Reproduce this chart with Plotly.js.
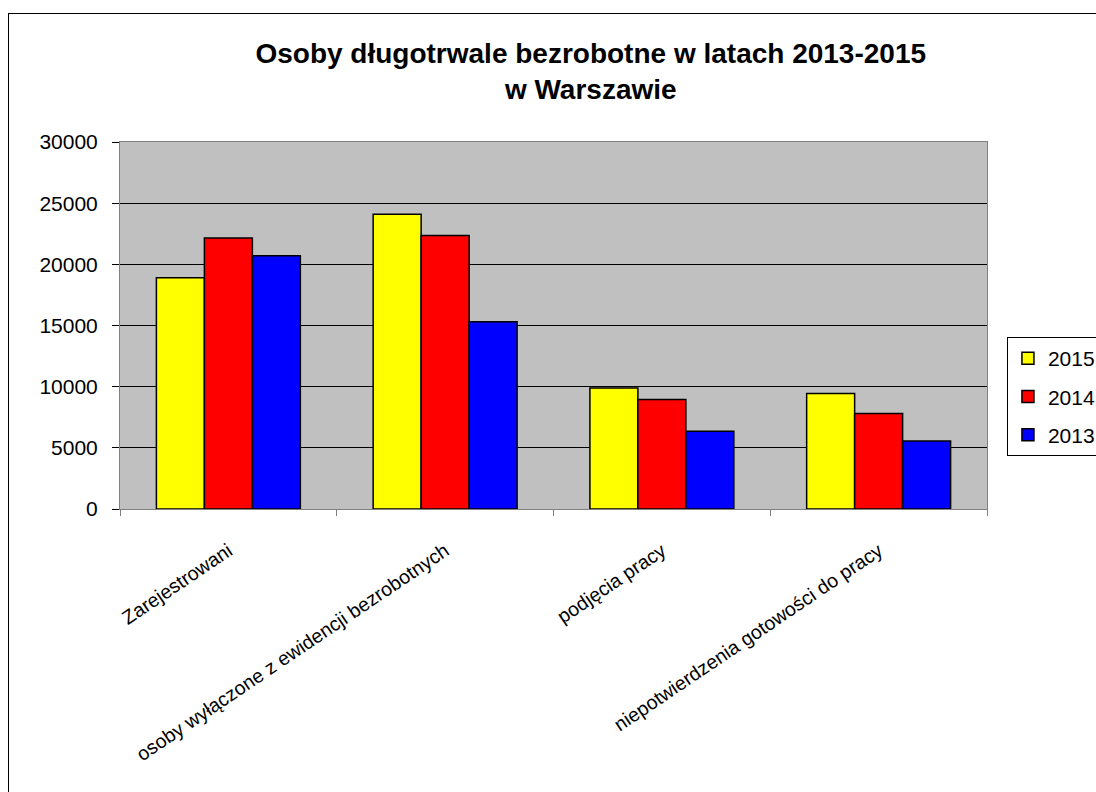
<!DOCTYPE html>
<html>
<head>
<meta charset="utf-8">
<script src="https://cdn.plot.ly/plotly-3.0.1.min.js"></script>
<style>
  html, body { margin: 0; padding: 0; background: #ffffff; }
  #wrap { position: relative; width: 1096px; height: 792px; overflow: hidden; }
  #frame { position: absolute; left: 8px; top: 13px; width: 1200px; height: 900px; border: 1px solid #000; box-sizing: border-box; pointer-events: none; z-index: 5; }
  #chart { position: absolute; left: 0; top: 0; width: 1096px; height: 792px; }
</style>
</head>
<body>
<div id="wrap">
  <div id="chart"></div>
  <div id="frame"></div>
</div>
<script>
const categories = [
  "Zarejestrowani",
  "osoby wyłączone z ewidencji bezrobotnych",
  "podjęcia pracy",
  "niepotwierdzenia gotowości do pracy"
];
const seriesNames = ["2015", "2014", "2013"];
const values2015 = [18900, 24100, 9900, 9450];
const values2014 = [22150, 22350, 8950, 7800];
const values2013 = [20700, 15300, 6350, 5550];
const seriesColors = ["#FFFF00", "#FF0000", "#0000FF"];
const yTicks = [0, 5000, 10000, 15000, 20000, 25000, 30000];

const allValues = [values2015, values2014, values2013];
const traces = allValues.map((vals, i) => ({
  type: "bar",
  name: seriesNames[i],
  x: categories,
  y: vals,
  legendgroup: "g" + i,
  marker: { color: seriesColors[i], line: { color: "#000000", width: 1.5 } },
  hoverinfo: "x+y+name"
}));

const layout = {
  width: 1096,
  height: 792,
  paper_bgcolor: "rgba(0,0,0,0)",
  plot_bgcolor: "#C0C0C0",
  font: { family: "Liberation Sans, Arial, sans-serif", color: "#000000", size: 18 },
  margin: { l: 120, r: 109, t: 142, b: 283, autoexpand: false },
  title: {
    text: "<b>Osoby długotrwale bezrobotne w latach 2013-2015<br>w Warszawie</b>",
    font: { family: "Liberation Sans, Arial, sans-serif", size: 28, color: "#000000" },
    x: 0.539,
    xanchor: "center",
    xref: "container",
    y: 0.921,
    yanchor: "top",
    yref: "container"
  },
  barmode: "group",
  bargap: 0.336,
  bargroupgap: 0,
  showlegend: true,
  legend: {
    x: 1.023,
    xanchor: "left",
    y: 0.4687,
    yanchor: "top",
    bgcolor: "#FFFFFF",
    bordercolor: "#000000",
    borderwidth: 1,
    font: { size: 21, color: "#000000" },
    tracegroupgap: 8,
    itemwidth: 30
  },
  xaxis: {
    type: "category",
    tickson: "boundaries",
    ticks: "outside",
    ticklen: 6,
    tickcolor: "#808080",
    tickangle: -34,
    showline: true,
    linecolor: "#808080",
    linewidth: 1,
    mirror: true,
    showgrid: false,
    ticklabelstandoff: 22,
    tickfont: { size: 19.5, color: "#000000" }
  },
  yaxis: {
    range: [0, 30000],
    tickvals: yTicks,
    ticktext: yTicks.map(String),
    ticks: "outside",
    ticklen: 7,
    tickcolor: "#000000",
    showline: true,
    linecolor: "#808080",
    linewidth: 1,
    mirror: true,
    showgrid: true,
    gridcolor: "#000000",
    gridwidth: 1,
    zeroline: false,
    ticklabelstandoff: 10,
    tickfont: { size: 21, color: "#000000" }
  }
};

Plotly.newPlot("chart", traces, layout, { displayModeBar: false, staticPlot: true });
</script>
</body>
</html>
